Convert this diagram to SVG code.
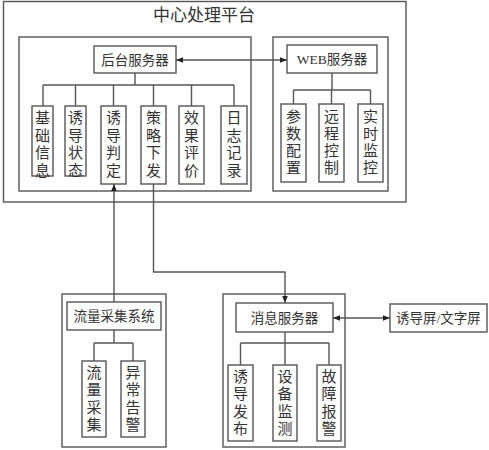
<svg xmlns="http://www.w3.org/2000/svg" width="489" height="450" viewBox="0 0 489 450">
<defs>
<marker id="ah" viewBox="0 0 10 10" refX="10" refY="5" markerWidth="7" markerHeight="7" markerUnits="userSpaceOnUse" orient="auto-start-reverse"><path d="M0,1 L10,5 L0,9 z" fill="#222"/></marker>
<style>
rect{fill:#fff;stroke:#555;stroke-width:1.4}
.c{fill:none;stroke:#555;stroke-width:1.4}
text{font-family:"Liberation Serif","Noto Sans CJK SC",serif;fill:#333;text-anchor:middle}
.t{font-size:17px}
.m{font-size:13.5px}
.v{font-size:15px}
</style>
</defs>
<g id="platform">
<rect x="3.5" y="1.5" width="402.5" height="200.5"/>
<text class="t" x="204" y="21">中心处理平台</text>
</g>
<g id="left-group"><rect x="19" y="37" width="232" height="154"/></g>
<g id="right-group"><rect x="273" y="37" width="115" height="154"/></g>
<g id="flow-group"><rect x="62" y="294" width="104" height="153"/></g>
<g id="msg-group"><rect x="223" y="294" width="122" height="153"/></g>
<g id="connectors">
<path class="c" d="M135,73 V85 M43,85 H234 M43,85 V106 M75.5,85 V106 M113.5,85 V106 M153.5,85 V106 M191.5,85 V106 M234,85 V106"/>
<path class="c" d="M332,73 V90 M293.5,90 H370.5 M293.5,90 V104 M331.5,90 V104 M370.5,90 V104"/>
<path class="c" d="M176,60 H287" marker-start="url(#ah)" marker-end="url(#ah)"/>
<path class="c" d="M114,302 V184" marker-end="url(#ah)"/>
<path class="c" d="M153.5,184 V272 H285 V303" marker-end="url(#ah)"/>
<path class="c" d="M114,330 V343 M94,343 H133 M94,343 V361 M133,343 V361"/>
<path class="c" d="M285,332 V343 M240.5,343 H329 M240.5,343 V365 M285,343 V365 M329,343 V365"/>
<path class="c" d="M333,318 H390" marker-start="url(#ah)" marker-end="url(#ah)"/>
</g>
<g id="backend"><rect x="94" y="46" width="82" height="27"/><text class="m" x="135" y="64.5">后台服务器</text></g>
<g id="web"><rect x="287" y="45" width="90" height="28"/><text class="m" x="332" y="64">WEB服务器</text></g>
<g id="n1"><rect x="32" y="106" width="21" height="70"/><text class="v" x="42.5" y="123"><tspan x="42.5">基</tspan><tspan x="42.5" dy="17.5">础</tspan><tspan x="42.5" dy="17.5">信</tspan><tspan x="42.5" dy="17.5">息</tspan></text></g>
<g id="n2"><rect x="65" y="106" width="21" height="70"/><text class="v" x="75.5" y="123"><tspan x="75.5">诱</tspan><tspan x="75.5" dy="17.5">导</tspan><tspan x="75.5" dy="17.5">状</tspan><tspan x="75.5" dy="17.5">态</tspan></text></g>
<g id="n3"><rect x="101" y="106" width="25" height="78"/><text class="v" x="113.5" y="123"><tspan x="113.5">诱</tspan><tspan x="113.5" dy="17.5">导</tspan><tspan x="113.5" dy="17.5">判</tspan><tspan x="113.5" dy="17.5">定</tspan></text></g>
<g id="n4"><rect x="141" y="106" width="25" height="78"/><text class="v" x="153.5" y="123"><tspan x="153.5">策</tspan><tspan x="153.5" dy="17.5">略</tspan><tspan x="153.5" dy="17.5">下</tspan><tspan x="153.5" dy="17.5">发</tspan></text></g>
<g id="n5"><rect x="179" y="106" width="25" height="78"/><text class="v" x="191.5" y="123"><tspan x="191.5">效</tspan><tspan x="191.5" dy="17.5">果</tspan><tspan x="191.5" dy="17.5">评</tspan><tspan x="191.5" dy="17.5">价</tspan></text></g>
<g id="n6"><rect x="221" y="106" width="26" height="78"/><text class="v" x="234" y="123"><tspan x="234">日</tspan><tspan x="234" dy="17.5">志</tspan><tspan x="234" dy="17.5">记</tspan><tspan x="234" dy="17.5">录</tspan></text></g>
<g id="w1"><rect x="281" y="104" width="25" height="78"/><text class="v" x="293.5" y="122"><tspan x="293.5">参</tspan><tspan x="293.5" dy="17">数</tspan><tspan x="293.5" dy="17">配</tspan><tspan x="293.5" dy="17">置</tspan></text></g>
<g id="w2"><rect x="319" y="104" width="25" height="78"/><text class="v" x="331.5" y="122"><tspan x="331.5">远</tspan><tspan x="331.5" dy="17">程</tspan><tspan x="331.5" dy="17">控</tspan><tspan x="331.5" dy="17">制</tspan></text></g>
<g id="w3"><rect x="358" y="104" width="25" height="78"/><text class="v" x="370.5" y="122"><tspan x="370.5">实</tspan><tspan x="370.5" dy="17">时</tspan><tspan x="370.5" dy="17">监</tspan><tspan x="370.5" dy="17">控</tspan></text></g>
<g id="flow"><rect x="67" y="302" width="94" height="28"/><text class="m" x="114" y="321">流量采集系统</text></g>
<g id="f1"><rect x="82" y="361" width="24" height="76"/><text class="v" x="94" y="378"><tspan x="94">流</tspan><tspan x="94" dy="17.3">量</tspan><tspan x="94" dy="17.3">采</tspan><tspan x="94" dy="17.3">集</tspan></text></g>
<g id="f2"><rect x="121" y="361" width="24" height="76"/><text class="v" x="133" y="378"><tspan x="133">异</tspan><tspan x="133" dy="17.3">常</tspan><tspan x="133" dy="17.3">告</tspan><tspan x="133" dy="17.3">警</tspan></text></g>
<g id="msg"><rect x="236" y="303" width="97" height="29"/><text class="m" x="284.5" y="322.5">消息服务器</text></g>
<g id="screen"><rect x="390" y="304" width="97" height="28"/><text class="m" x="438.5" y="323">诱导屏/文字屏</text></g>
<g id="m1"><rect x="228" y="365" width="25" height="76"/><text class="v" x="240.5" y="382"><tspan x="240.5">诱</tspan><tspan x="240.5" dy="17.3">导</tspan><tspan x="240.5" dy="17.3">发</tspan><tspan x="240.5" dy="17.3">布</tspan></text></g>
<g id="m2"><rect x="273" y="365" width="24" height="76"/><text class="v" x="285" y="382"><tspan x="285">设</tspan><tspan x="285" dy="17.3">备</tspan><tspan x="285" dy="17.3">监</tspan><tspan x="285" dy="17.3">测</tspan></text></g>
<g id="m3"><rect x="317" y="365" width="24" height="76"/><text class="v" x="329" y="382"><tspan x="329">故</tspan><tspan x="329" dy="17.3">障</tspan><tspan x="329" dy="17.3">报</tspan><tspan x="329" dy="17.3">警</tspan></text></g>
</svg>
